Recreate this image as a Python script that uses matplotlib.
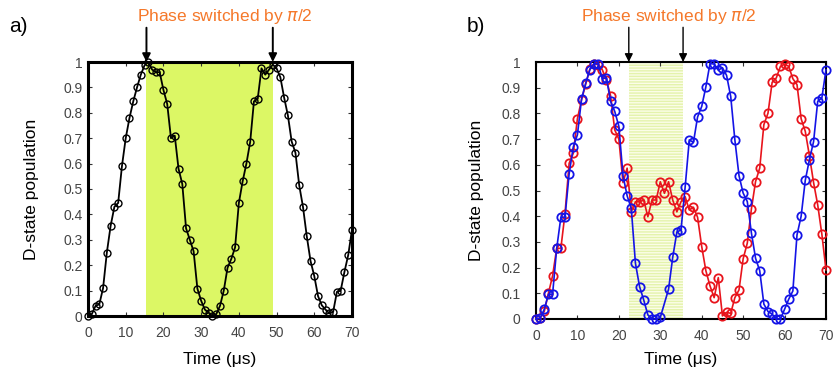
import numpy as np
import matplotlib
matplotlib.use('Agg')
import matplotlib.pyplot as plt

plt.rcParams['font.family'] = ['Liberation Sans', 'DejaVu Sans']
plt.rcParams['hatch.linewidth'] = 1.0

# panel a: single trace, 1 us steps
t_a = list(range(0, 71))
pop_a = [0.0, 0.007, 0.04, 0.046, 0.11, 0.25, 0.355, 0.43, 0.445, 0.59,
         0.70, 0.78, 0.845, 0.90, 0.95, 0.987, 1.0, 0.97, 0.96, 0.96,
         0.89, 0.835, 0.70, 0.71, 0.58, 0.52, 0.345, 0.30, 0.255, 0.108,
         0.06, 0.025, 0.013, 0.0, 0.007, 0.04, 0.10, 0.19, 0.225, 0.27,
         0.445, 0.53, 0.60, 0.685, 0.845, 0.855, 0.975, 0.95, 0.97, 0.99,
         0.975, 0.94, 0.86, 0.79, 0.687, 0.643, 0.515, 0.43, 0.315, 0.217,
         0.157, 0.078, 0.042, 0.025, 0.01, 0.016, 0.095, 0.10, 0.174, 0.24,
         0.34]
switch_a = (15.5, 49.0)

# panel b: red and blue traces
t_red = list(range(0, 71))
pop_red = [0.0, 0.003, 0.03, 0.10, 0.168, 0.275, 0.275, 0.41, 0.606, 0.645,
           0.78, 0.853, 0.914, 0.973, 0.992, 0.99, 0.97, 0.93, 0.869, 0.736,
           0.70, 0.531, 0.587, 0.418, 0.456, 0.456, 0.463, 0.398, 0.463, 0.463,
           0.534, 0.489, 0.534, 0.463, 0.417, 0.456, 0.476, 0.424, 0.435, 0.396,
           0.282, 0.188, 0.129, 0.083, 0.161, 0.012, 0.026, 0.022, 0.083, 0.113,
           0.234, 0.295, 0.429, 0.535, 0.587, 0.756, 0.801, 0.921, 0.938, 0.983,
           0.992, 0.983, 0.935, 0.912, 0.779, 0.73, 0.635, 0.531, 0.444, 0.33,
           0.191]
t_blue = list(range(0, 31)) + list(range(32, 71))
pop_blue = [0.0, 0.003, 0.038, 0.096, 0.096, 0.275, 0.396, 0.396, 0.565, 0.67,
            0.717, 0.857, 0.918, 0.97, 0.994, 0.992, 0.935, 0.938, 0.847, 0.808,
            0.75, 0.558, 0.479, 0.43, 0.217, 0.126, 0.074, 0.016, 0.0, 0.0,
            0.006,
            0.116, 0.24, 0.338, 0.347, 0.513, 0.697, 0.687, 0.786, 0.827,
            0.903, 0.994, 0.992, 0.968, 0.978, 0.948, 0.866, 0.697, 0.558, 0.49,
            0.457, 0.334, 0.236, 0.188, 0.058, 0.029, 0.019, 0.0, 0.0, 0.038,
            0.077, 0.109, 0.327, 0.40, 0.54, 0.62, 0.69, 0.847, 0.86, 0.97]
switch_b = (22.4, 35.5)

xticks = [0, 10, 20, 30, 40, 50, 60, 70]
yticks = [0, 0.1, 0.2, 0.3, 0.4, 0.5, 0.6, 0.7, 0.8, 0.9, 1]
ytick_labels = ['0', '0.1', '0.2', '0.3', '0.4', '0.5', '0.6', '0.7', '0.8', '0.9', '1']

W, H = 833, 374
fig = plt.figure(figsize=(W / 100, H / 100), dpi=100)
ax_a = fig.add_axes([88 / W, 1 - 316 / H, (352 - 88) / W, (316 - 62) / H])
ax_b = fig.add_axes([536 / W, 1 - 319 / H, (826 - 536) / W, (319 - 62) / H])


def style_axes(ax, spine_w, ypad):
    ax.set_xlim(0, 70)
    ax.set_ylim(0, 1)
    ax.set_xticks(xticks)
    ax.set_yticks(yticks)
    ax.set_yticklabels(ytick_labels)
    ax.tick_params(direction='in', top=True, right=True, length=3, width=0.8,
                   labelsize=10, labelcolor='#444444', color='#333333')
    ax.tick_params(axis='y', pad=ypad)
    ax.tick_params(axis='x', pad=7)
    for s in ax.spines.values():
        s.set_linewidth(spine_w)
    ax.set_ylabel('D-state population', fontsize=12.5)
    ax.set_xlabel('Time (\u03bcs)', fontsize=12.5)


# panel a
ax_a.axvspan(switch_a[0], switch_a[1], color='#dcf765', lw=0, zorder=0)
ax_a.plot(t_a, pop_a, '-o', color='black', lw=1.3, ms=5, mfc='none', mew=1.0,
          clip_on=False, zorder=3)
style_axes(ax_a, 2.2, 4)
ax_a.yaxis.set_label_coords(-0.185, 0.5)
ax_a.xaxis.set_label_coords(0.5, -0.14)

# panel b
ax_b.axvspan(switch_b[0], switch_b[1], facecolor='#fbfde8', edgecolor='#e4f3ac',
             hatch='------', lw=0, zorder=0)
ax_b.plot(t_red, pop_red, '-o', color='#e8141c', lw=1.2, ms=6, mfc='none', mew=1.3,
          clip_on=False, zorder=3)
ax_b.plot(t_blue, pop_blue, '-o', color='#1414e6', lw=1.2, ms=6, mfc='none', mew=1.3,
          clip_on=False, zorder=4)
style_axes(ax_b, 1.5, 11)
ax_b.yaxis.set_label_coords(-0.18, 0.5)
ax_b.xaxis.set_label_coords(0.5, -0.128)

# arrows marking the phase switch
for ax, sw, lw in [(ax_a, switch_a, 1.4), (ax_b, switch_b, 1.0)]:
    for t in sw:
        ax.annotate('', xy=(t, 1.0), xytext=(t, 1.135),
                    arrowprops=dict(arrowstyle='-|>', color='black', lw=lw,
                                    mutation_scale=12, shrinkA=0, shrinkB=0),
                    annotation_clip=False)

orange = '#f5782a'
fig.text(225 / W, 1 - 16 / H, 'Phase switched by $\\pi$/2', color=orange,
         fontsize=12.5, ha='center', va='center')
fig.text(669 / W, 1 - 16 / H, 'Phase switched by $\\pi$/2', color=orange,
         fontsize=12.5, ha='center', va='center')
fig.text(9 / W, 1 - 27 / H, 'a)', fontsize=15, ha='left', va='center')
fig.text(467 / W, 1 - 27 / H, 'b)', fontsize=15, ha='left', va='center')

fig.savefig('out.png', dpi=100)
